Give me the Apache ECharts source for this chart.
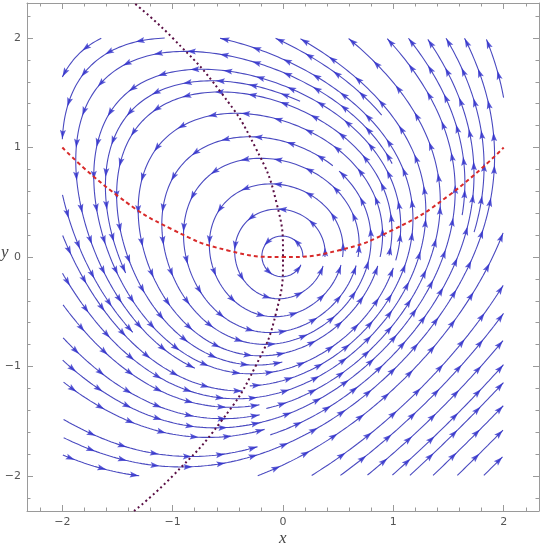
<!DOCTYPE html>
<html><head><meta charset="utf-8">
<script src="https://cdn.jsdelivr.net/npm/echarts@6/dist/echarts.min.js"></script>
<style>html,body{margin:0;padding:0;background:#fff}#c{width:540px;height:550px}</style>
</head><body><div id="c"></div>
<script>
// ---- data ----
const plotRange = [-2.32, 2.32];          // framed plot range (both axes)
const fieldDomain = [-2, 2];              // streamlines drawn inside this square
const majorTicks = [-2, -1, 0, 1, 2];
const minorTicks = [-2.2,-1.8,-1.6,-1.4,-1.2,-0.8,-0.6,-0.4,-0.2,0.2,0.4,0.6,0.8,1.2,1.4,1.6,1.8,2.2];
const axisNames = ['x', 'y'];
// red dashed curve (dx/dt = 0)
const redCurveX = [-2, -1.5, -1, -0.5, 0, 0.5, 1, 1.5, 2];
const redCurveY = [1.0, 0.56, 0.25, 0.06, 0, 0.06, 0.25, 0.56, 1.0];
// purple dotted curve (dy/dt = 0)
const purpleCurveY = [-2.32, -2, -1.5, -1, -0.5, 0, 0.5, 1, 1.5, 2, 2.32];
const purpleCurveX = [-1.35, -1.0, -0.56, -0.25, -0.06, 0, -0.06, -0.25, -0.56, -1.0, -1.35];
// vector field: dx/dt = a*x^2 + b*y ; dy/dt = c*x + d*y^2
const fieldXCoef = [0.25, -1];
const fieldYCoef = [1, 0.25];
// streamline crossings read on the positive x axis (y = 0) and tails on the bottom edge (y = -2)
const seedsOnXAxis = [0.18, 0.38, 0.54, 0.68, 0.88, 1.0, 1.23, 1.45, 1.59, 1.72, 1.90];
const seedsOnBottom = [0.26, 0.52, 0.73, 1.15, 1.36, 1.58, 1.82];

// ---- streamline construction ----
const DSEP = 0.145, DTEST = 0.07, H = 0.015, ARROW_GAP = 0.3, CORE = 0.13;
const SX = 512 / (plotRange[1] - plotRange[0]), SY = 508 / (plotRange[1] - plotRange[0]);
function vel(x, y) {
  const u = fieldXCoef[0] * x * x + fieldXCoef[1] * y;
  const v = fieldYCoef[0] * x + fieldYCoef[1] * y * y;
  const m = Math.hypot(u, v) || 1e-9;
  return [u / m, v / m];
}
function rk4(x, y, h) {
  const k1 = vel(x, y);
  const k2 = vel(x + h / 2 * k1[0], y + h / 2 * k1[1]);
  const k3 = vel(x + h / 2 * k2[0], y + h / 2 * k2[1]);
  const k4 = vel(x + h * k3[0], y + h * k3[1]);
  return [x + h / 6 * (k1[0] + 2 * k2[0] + 2 * k3[0] + k4[0]), y + h / 6 * (k1[1] + 2 * k2[1] + 2 * k3[1] + k4[1])];
}
const CELL = DSEP;
const gridMap = new Map();
const ci = v => Math.floor((v + 3) / CELL);
function addPt(x, y) { const k = ci(x) * 1000 + ci(y); if (!gridMap.has(k)) gridMap.set(k, []); gridMap.get(k).push([x, y]); }
function near(x, y, d) {
  const i = ci(x), j = ci(y), r = Math.ceil(d / CELL);
  for (let a = i - r; a <= i + r; a++) for (let b = j - r; b <= j + r; b++) {
    const arr = gridMap.get(a * 1000 + b); if (!arr) continue;
    for (const p of arr) if (Math.hypot(p[0] - x, p[1] - y) < d) return true;
  }
  return false;
}
const inDom = (x, y) => x >= fieldDomain[0] && x <= fieldDomain[1] && y >= fieldDomain[0] && y <= fieldDomain[1];
function trace(x0, y0, sgn, own) {
  const pts = []; let x = x0, y = y0;
  for (let n = 1; n < 2500; n++) {
    const p = rk4(x, y, sgn * H);
    if (!inDom(p[0], p[1])) break;
    if (near(p[0], p[1], DTEST)) break;
    const s = sgn * n * H;
    let hit = false;
    for (const q of own) { if (Math.abs(q[2] - s) > 3 * DSEP && Math.hypot(q[0] - p[0], q[1] - p[1]) < DTEST) { hit = true; break; } }
    if (hit) break;
    const e = [p[0], p[1], s]; pts.push(e); own.push(e); x = p[0]; y = p[1];
  }
  return pts;
}
const lines = [];
function tryLine(x, y) {
  if (!inDom(x, y) || Math.hypot(x, y) < CORE || near(x, y, DSEP * 0.95)) return null;
  const own = [[x, y, 0]];
  const f = trace(x, y, 1, own);
  const b = trace(x, y, -1, own);
  const pts = b.reverse().map(p => [p[0], p[1]]).concat([[x, y]], f.map(p => [p[0], p[1]]));
  if (pts.length * H < 0.2) return null;
  pts.forEach(p => addPt(p[0], p[1]));
  lines.push(pts);
  return pts;
}
const queue = [];
seedsOnXAxis.forEach(x => { const l = tryLine(x, 0); if (l) queue.push(l); });
seedsOnBottom.forEach(x => { const l = tryLine(x, -1.995); if (l) queue.push(l); });
while (queue.length) {
  const l = queue.shift();
  const stepN = Math.max(1, Math.round(DSEP / 2 / H));
  for (let i = 0; i < l.length; i += stepN) {
    const d = vel(l[i][0], l[i][1]);
    for (const s of [1, -1]) {
      const nl = tryLine(l[i][0] - s * d[1] * DSEP, l[i][1] + s * d[0] * DSEP);
      if (nl) queue.push(nl);
    }
  }
}
// arrows along each line, one at the head then every ARROW_GAP backwards
const arrows = [];
lines.forEach(pts => {
  const cum = [0];
  for (let i = 1; i < pts.length; i++) cum.push(cum[i - 1] + Math.hypot(pts[i][0] - pts[i - 1][0], pts[i][1] - pts[i - 1][1]));
  const L = cum[cum.length - 1];
  let idx = pts.length - 1;
  for (let s = L - 0.035; s > 0.05; s -= ARROW_GAP) {
    while (idx > 0 && cum[idx] > s) idx--;
    const p = pts[idx];
    const d = vel(p[0], p[1]);
    const ang = Math.atan2(d[1] * SY, d[0] * SX) * 180 / Math.PI;
    arrows.push({ value: [p[0], p[1]], symbolRotate: ang - 90 });
  }
});

// ---- chart ----
const fmt = v => v < 0 ? '\u2212' + Math.abs(v) : String(v);
const frameColor = '#9a9a9a';
function mkAxis(pos, major) {
  return {
    type: 'value', position: pos, min: plotRange[0], max: plotRange[1],
    gridIndex: 0,
    axisLine: { show: major, onZero: false, lineStyle: { color: frameColor, width: 1 } },
    axisTick: { show: true, inside: true, length: major ? 6 : 3.5, customValues: major ? majorTicks : minorTicks, lineStyle: { color: frameColor } },
    axisLabel: (major && (pos === 'bottom' || pos === 'left')) ? { show: true, customValues: majorTicks, formatter: fmt, color: '#555', fontSize: 11, fontFamily: 'DejaVu Sans', margin: 6 } : { show: false },
    splitLine: { show: false }
  };
}
const series = [];
lines.forEach(pts => series.push({
  type: 'line', data: pts, showSymbol: false, symbol: 'none', silent: true, smooth: false,
  lineStyle: { color: '#4a4ac0', width: 1.1 }, z: 2, xAxisIndex: 0, yAxisIndex: 0
}));
series.push({
  type: 'scatter', data: arrows, symbol: 'path://M5,0 L10,13 L5,10.5 L0,13 Z', symbolSize: [6, 9],
  itemStyle: { color: '#3030cc' }, silent: true, z: 3, xAxisIndex: 0, yAxisIndex: 0
});
series.push({
  type: 'line', data: redCurveX.map((x, i) => [x, redCurveY[i]]), smooth: true, showSymbol: false, symbol: 'none',
  lineStyle: { color: '#d82a2a', width: 2, type: [4, 3] }, z: 5, xAxisIndex: 0, yAxisIndex: 0
});
series.push({
  type: 'line', data: purpleCurveX.map((x, i) => [x, purpleCurveY[i]]), smooth: true, showSymbol: false, symbol: 'none',
  lineStyle: { color: '#5a0f45', width: 2, type: [2, 3] }, z: 5, xAxisIndex: 0, yAxisIndex: 0
});
const nameStyle = { fontStyle: 'italic', fontFamily: 'Liberation Serif', fontSize: 17, fill: '#444' };
const chart = echarts.init(document.getElementById('c'), null, { renderer: 'canvas' });
chart.setOption({
  animation: false,
  backgroundColor: '#fff',
  grid: { left: 27, top: 3, width: 512, height: 508, containLabel: false, outerBoundsMode: 'none' },
  xAxis: [mkAxis('bottom', true), mkAxis('bottom', false), mkAxis('top', true), mkAxis('top', false)],
  yAxis: [mkAxis('left', true), mkAxis('left', false), mkAxis('right', true), mkAxis('right', false)],
  graphic: [
    { type: 'text', left: 279, top: 530, style: Object.assign({ text: axisNames[0] }, nameStyle) },
    { type: 'text', left: 1, top: 244, style: Object.assign({ text: axisNames[1] }, nameStyle) }
  ],
  series: series
});
</script>
</body></html>
